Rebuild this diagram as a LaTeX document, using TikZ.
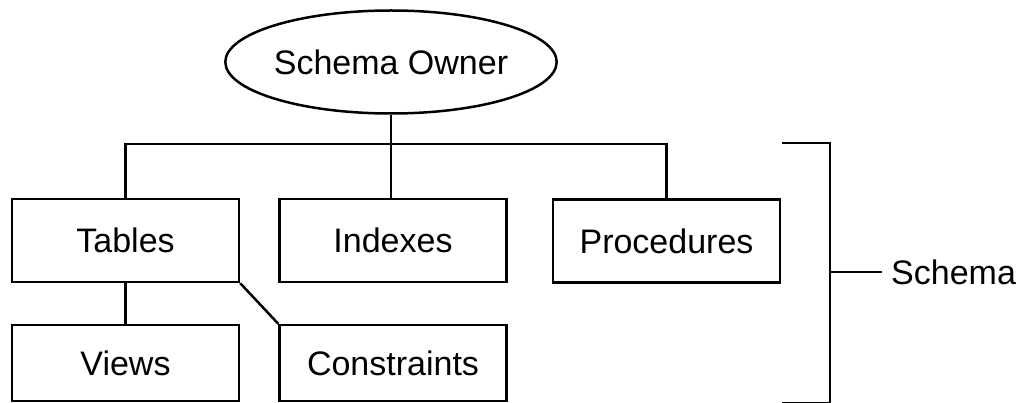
\documentclass[tikz,border=0pt]{standalone}
\usepackage{fontspec}
\setmainfont{Liberation Sans}
\usetikzlibrary{shapes.geometric}
\begin{document}
\begin{tikzpicture}[x=1pt,y=-1pt,
  every node/.style={font=\fontsize{34}{40}\selectfont},
  objbox/.style={draw, line width=2.5pt, rectangle, inner sep=0pt,
                 minimum width=227pt, minimum height=83pt},
  link/.style={line width=2.5pt}]
\useasboundingbox (0,0) rectangle (1028,403);
\clip (0,0) rectangle (1028,403);
\fill[white] (0,0) rectangle (1028,403);

% owner at the top
\node[draw, ellipse, line width=2.5pt, inner sep=0pt,
      minimum width=316pt, minimum height=103pt] (owner) at (391,62) {Schema Owner};

% schema objects
\node[objbox] (tbl)  at (125.5,240.5) {Tables};
\node[objbox] (idx)  at (393,240.5)   {Indexes};
\node[objbox] (proc) at (666.5,241)   {Procedures};
\node[objbox, minimum height=76pt] (views) at (125.5,363) {Views};
\node[objbox, minimum height=76pt] (cons)  at (393,363)   {Constraints};

% tree connectors
\coordinate (bus) at (393,144);
\draw[link] (owner.south) -- (owner.south |- idx.north);
\draw[link] (tbl.north) |- (bus) -| (proc.north);
\draw[link] (tbl.south) -- (views.north);
\draw[link] (tbl.south east) -- (cons.north west);

% bracket grouping the schema objects
\coordinate (brtop) at (782,143);
\coordinate (brcorner) at (830,143);
\coordinate (brbot) at (830,403);
\coordinate (brend) at (782,403);
\coordinate (brmid) at (830,272);
\node[anchor=west, inner sep=9pt] (schema) at (882,272) {Schema};
\draw[link] (brtop) -- (brcorner) -- (brbot) -- (brend);
\draw[link] (brmid) -- (schema.west);
\end{tikzpicture}
\end{document}
